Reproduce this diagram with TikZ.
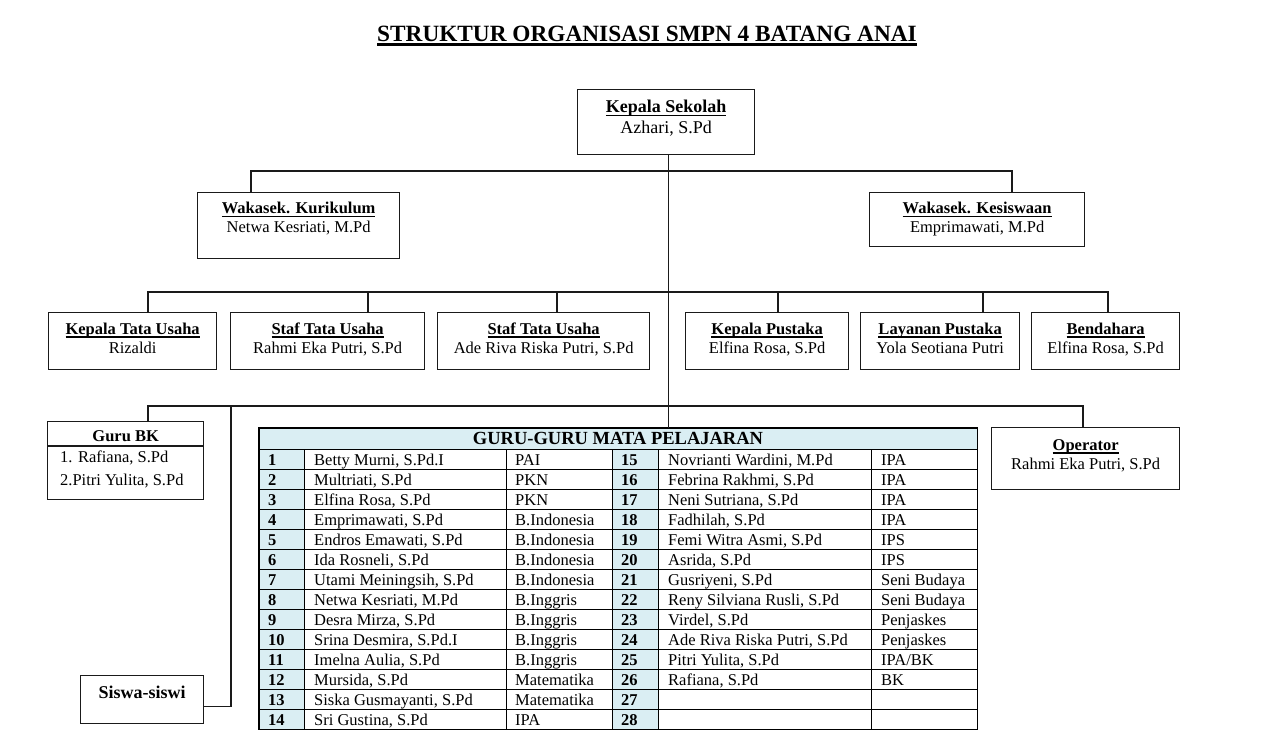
\documentclass[tikz,border=0pt]{standalone}
\usepackage{fontspec}
\setmainfont{Liberation Serif}
\definecolor{hdr}{HTML}{DAEEF3}
\definecolor{lineclr}{HTML}{1A1A1A}
\newcommand\ulx[1]{\setbox0\hbox{#1}\rlap{\rule[-3.5pt]{\wd0}{1.6pt}}\box0}
\newcommand\ultitle[1]{\setbox0\hbox{#1}\rlap{\rule[-3.9pt]{\wd0}{2.4pt}}\box0}
\tikzset{
  box/.style={draw=lineclr, line width=1.3pt, inner sep=0pt, fill=white},
  txt/.style={inner sep=0pt, font=\fontsize{16.5}{19}\selectfont},
  bigtxt/.style={inner sep=0pt, font=\fontsize{18}{21}\selectfont},
  conn/.style={draw=lineclr, line width=1.2pt},
  gridline/.style={draw=black, line width=0.9pt},
  cell/.style={inner sep=0pt, anchor=base west, font=\fontsize{16.5}{19}\selectfont},
}
% #1 name, #2 left, #3 top, #4 width, #5 height, #6 title, #7 person, #8 text style, #9 baseline offsets t/n
\newcommand\orgbox[9]{%
  \node[box, minimum width=#4pt, minimum height=#5pt, anchor=north west] (#1) at (#2,#3) {};
  \def\tmpoffs{#9}%
  \expandafter\orgboxtext\tmpoffs\relax{#1}{#6}{#7}{#8}%
}
\def\orgboxtext#1/#2\relax#3#4#5#6{%
  \node[#6, anchor=base] (#3-t) at ([yshift=-#1pt]#3.north) {\textbf{\ulx{#4}}};
  \node[#6, anchor=base] (#3-n) at ([yshift=-#2pt]#3.north) {#5};
}
\begin{document}
\begin{tikzpicture}[x=1pt,y=-1pt]
\useasboundingbox[fill=white] (0,0) rectangle (1285,754);

% title
\node[inner sep=0pt, anchor=base, font=\fontsize{23.3}{27}\selectfont\bfseries] (title) at (647,42)
  {\ultitle{STRUKTUR ORGANISASI SMPN 4 BATANG ANAI}};

% boxes
\orgbox{ks}{577}{89}{177}{65}{Kepala Sekolah}{Azhari, S.Pd}{bigtxt}{24/45}
\orgbox{wk}{197}{192}{202}{66}{Wakasek. Kurikulum}{Netwa Kesriati, M.Pd}{txt}{22/41}
\orgbox{wks}{869}{192}{215}{54}{Wakasek. Kesiswaan}{Emprimawati, M.Pd}{txt}{22/41}
\orgbox{ktu}{48}{312}{168}{57}{Kepala Tata Usaha}{Rizaldi}{txt}{22/41}
\orgbox{stu1}{230}{312}{194}{57}{Staf Tata Usaha}{Rahmi Eka Putri, S.Pd}{txt}{22/41}
\orgbox{stu2}{437}{312}{212}{57}{Staf Tata Usaha}{Ade Riva Riska Putri, S.Pd}{txt}{22/41}
\orgbox{kp}{685}{312}{163}{57}{Kepala Pustaka}{Elfina Rosa, S.Pd}{txt}{22/41}
\orgbox{lp}{860}{312}{159}{57}{Layanan Pustaka}{Yola Seotiana Putri}{txt}{22/41}
\orgbox{bend}{1031}{312}{148}{57}{Bendahara}{Elfina Rosa, S.Pd}{txt}{22/41}
\orgbox{op}{991}{427}{188}{62}{Operator}{Rahmi Eka Putri, S.Pd}{txt}{23/42}

% Guru BK
\node[box, minimum width=156pt, minimum height=78pt, anchor=north west] (gbk) at (47,421) {};
\draw[conn] ([yshift=-25pt]gbk.north west) -- ([yshift=-25pt]gbk.north east);
\node[txt, anchor=base] (gbk-t) at ([yshift=-20.5pt]gbk.north) {\textbf{Guru BK}};
\node[txt, anchor=base west] (gbk-1) at ([xshift=13pt,yshift=-41pt]gbk.north west) {1. Rafiana, S.Pd};
\node[txt, anchor=base west] (gbk-2) at ([xshift=13pt,yshift=-64pt]gbk.north west) {2.Pitri Yulita, S.Pd};

% Siswa-siswi
\node[box, minimum width=123pt, minimum height=48pt, anchor=north west] (ss) at (80,675) {};
\node[bigtxt, anchor=base] (ss-t) at ([yshift=-23.5pt]ss.north) {\textbf{Siswa-siswi}};

% table
\node[inner sep=0pt, minimum width=718pt, minimum height=301pt, anchor=north west] (tbl) at (259,428) {};
\fill[hdr] (tbl.north west) rectangle ([yshift=-21pt]tbl.north east);
\fill[hdr] (259,449) rectangle (304,729);
\fill[hdr] (612,449) rectangle (658,729);
\foreach \k in {0,...,13} {
  \draw[gridline] (259,{449+20*\k}) -- (977,{449+20*\k});
}
\foreach \xx in {304,506,612,658,871} {
  \draw[gridline] (\xx,449) -- (\xx,729);
}
\draw[line width=1.2pt] (tbl.north west) rectangle (tbl.south east);
\node[inner sep=0pt, anchor=base, font=\fontsize{18.5}{21}\selectfont\bfseries] (tbl-h) at (618,444.5) {GURU-GURU MATA PELAJARAN};

\foreach \i/\n/\s in {
  1/Betty Murni{,} S.Pd.I/PAI,
  2/Multriati{,} S.Pd/PKN,
  3/Elfina Rosa{,} S.Pd/PKN,
  4/Emprimawati{,} S.Pd/B.Indonesia,
  5/Endros Emawati{,} S.Pd/B.Indonesia,
  6/Ida Rosneli{,} S.Pd/B.Indonesia,
  7/Utami Meiningsih{,} S.Pd/B.Indonesia,
  8/Netwa Kesriati{,} M.Pd/B.Inggris,
  9/Desra Mirza{,} S.Pd/B.Inggris,
  10/Srina Desmira{,} S.Pd.I/B.Inggris,
  11/Imelna Aulia{,} S.Pd/B.Inggris,
  12/Mursida{,} S.Pd/Matematika,
  13/Siska Gusmayanti{,} S.Pd/Matematika,
  14/Sri Gustina{,} S.Pd/IPA} {
  \pgfmathsetmacro\yb{449+20*(\i-1)+16.5}
  \node[cell] (k\i) at (268,\yb) {\textbf{\i}};
  \node[cell] (n\i) at (314,\yb) {\n};
  \node[cell] (s\i) at (515,\yb) {\s};
}
\foreach \i/\n/\s in {
  15/Novrianti Wardini{,} M.Pd/IPA,
  16/Febrina Rakhmi{,} S.Pd/IPA,
  17/Neni Sutriana{,} S.Pd/IPA,
  18/Fadhilah{,} S.Pd/IPA,
  19/Femi Witra Asmi{,} S.Pd/IPS,
  20/Asrida{,} S.Pd/IPS,
  21/Gusriyeni{,} S.Pd/Seni Budaya,
  22/Reny Silviana Rusli{,} S.Pd/Seni Budaya,
  23/Virdel{,} S.Pd/Penjaskes,
  24/Ade Riva Riska Putri{,} S.Pd/Penjaskes,
  25/Pitri Yulita{,} S.Pd/IPA\slash BK,
  26/Rafiana{,} S.Pd/BK,
  27//,
  28//} {
  \pgfmathsetmacro\yb{449+20*(\i-15)+16.5}
  \node[cell] (k\i) at (621,\yb) {\textbf{\i}};
  \node[cell] (n\i) at (668,\yb) {\n};
  \node[cell] (s\i) at (881,\yb) {\s};
}

% connectors
\draw[conn] ([xshift=2.5pt]ks.south) -- ([xshift=2.5pt]ks.south |- tbl.north);
\draw[conn] ([xshift=54pt]wk.north west) -- ++(0,-21) -| ([xshift=143pt]wks.north west);
\draw[conn] ([xshift=100pt]ktu.north west) -- ++(0,-20) -| ([xshift=77pt]bend.north west);
\draw[conn] ([xshift=138pt]stu1.north west) -- ++(0,-20);
\draw[conn] ([xshift=120pt]stu2.north west) -- ++(0,-20);
\draw[conn] ([xshift=93pt]kp.north west) -- ++(0,-20);
\draw[conn] ([xshift=123pt]lp.north west) -- ++(0,-20);
\draw[conn] ([xshift=101pt]gbk.north west) -- ++(0,-15) coordinate (b3) -| ([xshift=92pt]op.north west);
\draw[conn] ([yshift=-7pt]ss.east) -| ([xshift=83pt]b3);
\end{tikzpicture}
\end{document}
